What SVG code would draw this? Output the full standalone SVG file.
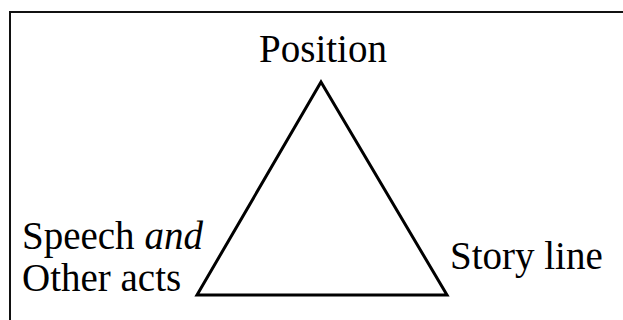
<svg xmlns="http://www.w3.org/2000/svg" width="623" height="320" viewBox="0 0 623 320">
<style>
.t{font-family:"Liberation Serif","Times New Roman",serif;font-size:39px;fill:#000}
.e{fill:none;stroke:#000;stroke-width:3;stroke-linejoin:miter}
.b{fill:none;stroke:#111;stroke-width:2}
</style>
<rect x="0" y="0" width="623" height="320" fill="#fff"/>
<path class="b" d="M10,320 L10,12 L623,12"/>
<g id="connectors">
<path class="e" d="M321,82 L447,295 L197,295 Z"/>
</g>
<g id="position"><text class="t" x="323" y="62" text-anchor="middle">Position</text></g>
<g id="speech"><text class="t" x="22" y="249">Speech <tspan font-style="italic">and</tspan></text><text class="t" x="22" y="291">Other acts</text></g>
<g id="story"><text class="t" x="450" y="269">Story line</text></g>
</svg>
